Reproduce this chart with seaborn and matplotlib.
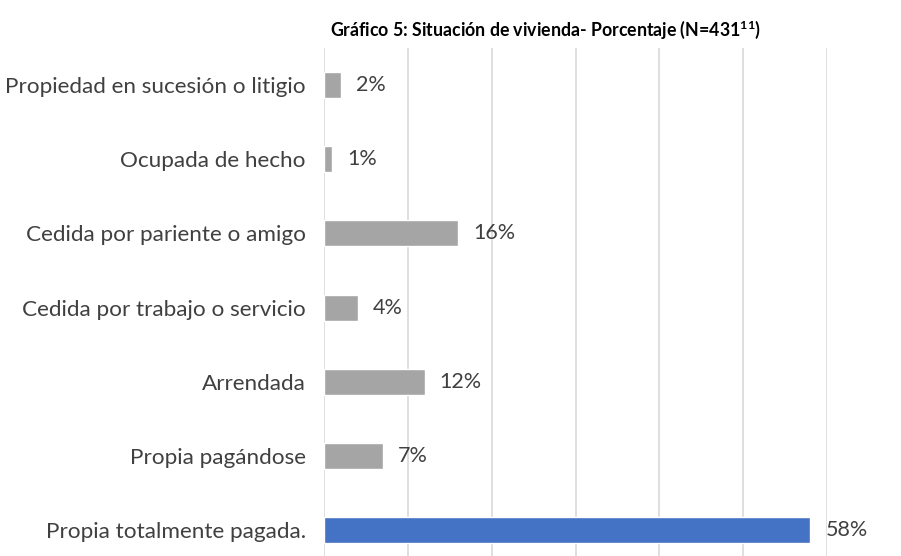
import matplotlib
matplotlib.use("Agg")
import matplotlib.pyplot as plt
import seaborn as sns
import pandas as pd

categories = [
    "Propiedad en sucesión o litigio",
    "Ocupada de hecho",
    "Cedida por pariente o amigo",
    "Cedida por trabajo o servicio",
    "Arrendada",
    "Propia pagándose",
    "Propia totalmente pagada.",
]
values = [2, 1, 16, 4, 12, 7, 58]
label_texts = ["2%", "1%", "16%", "4%", "12%", "7%", "58%"]
bar_colors = ["#A5A5A5"] * 6 + ["#4472C4"]

sns.set_theme(style="white")
plt.rcParams["font.family"] = ["Lato", "DejaVu Sans"]
plt.rcParams["mathtext.fontset"] = "custom"
plt.rcParams["mathtext.bf"] = "Lato:bold"
plt.rcParams["mathtext.rm"] = "Lato"

df = pd.DataFrame({"cat": categories, "val": values})

W, H = 901, 556
fig = plt.figure(figsize=(W / 100, H / 100), dpi=100)
ax_left, ax_right = 324 / W, 827 / W
ax_top, ax_bot = 1 - 48 / H, 0.0
ax = fig.add_axes([ax_left, ax_bot, ax_right - ax_left, ax_top - ax_bot])

sns.barplot(data=df, y="cat", x="val", hue="cat", palette=bar_colors,
            legend=False, orient="h", width=0.35, ax=ax, saturation=1)

ax.set_xlim(0, 60)
ax.set_ylim(6.35, -0.5)
ax.set_xticks(range(0, 61, 10))
ax.xaxis.grid(True, color="#D9D9D9", linewidth=1.2)
ax.yaxis.grid(False)
ax.set_axisbelow(True)
ax.tick_params(axis="x", bottom=False, labelbottom=False)
ax.tick_params(axis="y", left=False, pad=7, labelsize=16.2, labelcolor="#404040")
for s in ax.spines.values():
    s.set_visible(False)
ax.set_xlabel("")
ax.set_ylabel("")

for i, (v, t) in enumerate(zip(values, label_texts)):
    ax.text(v + 1.8, i, t, va="center", ha="left", fontsize=15.5, color="#404040")

fig.text(546 / W, 1 - 30 / H,
         r"Gráfico 5: Situación de vivienda- Porcentaje (N=431$^{\mathbf{11}}$)",
         ha="center", va="center", fontsize=12.8, fontweight="bold", color="#000000")

fig.savefig("out.png", dpi=100)
